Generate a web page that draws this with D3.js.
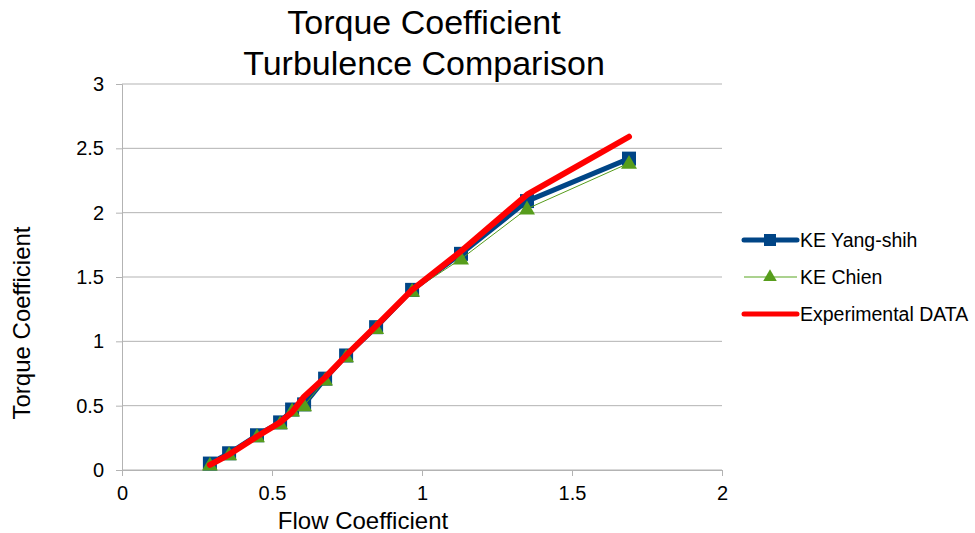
<!DOCTYPE html>
<html><head><meta charset="utf-8">
<script src="https://cdn.jsdelivr.net/npm/d3@7"></script>
<style>body{margin:0;background:#fff;} svg{display:block;font-family:"Liberation Sans",Arial,sans-serif;}</style>
</head><body>
<svg id="c" width="975" height="533"></svg>
<script>
const flow = [0.293,0.357,0.45,0.527,0.567,0.607,0.677,0.747,0.847,0.967,1.13,1.35,1.69];
const yangShih = [0.05,0.13,0.27,0.37,0.47,0.51,0.71,0.89,1.11,1.40,1.68,2.09,2.42];
const chien = [0.04,0.12,0.26,0.36,0.46,0.50,0.70,0.88,1.10,1.39,1.64,2.03,2.385];
const experimental = [0.04,0.12,0.26,0.37,0.45,0.57,0.72,0.89,1.12,1.40,1.70,2.14,2.59];
const xTicks = [0,0.5,1,1.5,2];
const yTicks = [0,0.5,1,1.5,2,2.5,3];
const seriesNames = ["KE Yang-shih","KE Chien","Experimental DATA"];

const svg = d3.select("#c");
const x = d3.scaleLinear().domain([0,2]).range([122,722]);
const y = d3.scaleLinear().domain([0,3]).range([470,84]);

// gridlines
svg.append("g").selectAll("line").data(yTicks).join("line")
  .attr("x1",x(0)).attr("x2",x(2)).attr("y1",d=>y(d)).attr("y2",d=>y(d))
  .attr("stroke","#b3b3b3").attr("stroke-width",1);

// axes
const xa = svg.append("g").attr("transform",`translate(0,${y(0)})`)
  .call(d3.axisBottom(x).tickValues(xTicks).tickSize(6).tickPadding(10).tickFormat(d3.format("")));
const ya = svg.append("g").attr("transform",`translate(${x(0)},0)`)
  .call(d3.axisLeft(y).tickValues(yTicks).tickSize(6).tickPadding(12).tickFormat(d3.format("")));
[xa,ya].forEach(a=>{
  a.select(".domain").attr("stroke","#b3b3b3");
  a.selectAll(".tick line").attr("stroke","#b3b3b3");
  a.selectAll(".tick text").attr("fill","#000").style("font-size","20px").style("font-family","'Liberation Sans',Arial,sans-serif");
});

const pts = arr => flow.map((f,i)=>[f,arr[i]]);
const line = d3.line().x(d=>x(d[0])).y(d=>y(d[1]));

// Yang-shih
svg.append("path").attr("d",line(pts(yangShih))).attr("fill","none")
  .attr("stroke","#004586").attr("stroke-width",5).attr("stroke-linejoin","round");
svg.append("g").selectAll("rect").data(pts(yangShih)).join("rect")
  .attr("x",d=>x(d[0])-7).attr("y",d=>y(d[1])-7).attr("width",14).attr("height",14)
  .attr("fill","#004586");

// Chien
svg.append("path").attr("d",line(pts(chien))).attr("fill","none")
  .attr("stroke","#579d1c").attr("stroke-width",1);
const tri = d3.symbol().type(d3.symbolTriangle).size(110);
svg.append("g").selectAll("path").data(pts(chien)).join("path")
  .attr("d",tri).attr("transform",d=>`translate(${x(d[0])},${y(d[1])+1})`)
  .attr("fill","#579d1c");

// Experimental
svg.append("path").attr("d",line(pts(experimental))).attr("fill","none")
  .attr("stroke","#ff0000").attr("stroke-width",6).attr("stroke-linejoin","round").attr("stroke-linecap","round");

// Title
svg.append("text").attr("x",424).attr("y",34).attr("text-anchor","middle").style("font-size","34px").text("Torque Coefficient");
svg.append("text").attr("x",424).attr("y",75).attr("text-anchor","middle").style("font-size","34px").text("Turbulence Comparison");

// Axis titles
svg.append("text").attr("x",363).attr("y",529).attr("text-anchor","middle").style("font-size","24px").text("Flow Coefficient");
svg.append("text").attr("transform","translate(30,323) rotate(-90)").attr("text-anchor","middle").style("font-size","24px").text("Torque Coefficient");

// Legend
const lg = svg.append("g");
const ly = [240,277,314];
// Yang-shih
lg.append("line").attr("x1",744).attr("x2",797).attr("y1",ly[0]).attr("y2",ly[0]).attr("stroke","#004586").attr("stroke-width",5).attr("stroke-linecap","round");
lg.append("rect").attr("x",764).attr("y",ly[0]-6).attr("width",12).attr("height",12).attr("fill","#004586");
// Chien
lg.append("line").attr("x1",744).attr("x2",797).attr("y1",ly[1]).attr("y2",ly[1]).attr("stroke","#8fc36a").attr("stroke-width",1.5);
lg.append("path").attr("d",d3.symbol().type(d3.symbolTriangle).size(80)).attr("transform",`translate(770,${ly[1]})`).attr("fill","#579d1c");
// Experimental
lg.append("line").attr("x1",744).attr("x2",797).attr("y1",ly[2]).attr("y2",ly[2]).attr("stroke","#ff0000").attr("stroke-width",5).attr("stroke-linecap","round");
lg.selectAll("text.l").data(seriesNames).join("text").attr("class","l")
  .attr("x",800).attr("y",(d,i)=>ly[i]+7).style("font-size","19.5px").text(d=>d);
</script>
</body></html>
